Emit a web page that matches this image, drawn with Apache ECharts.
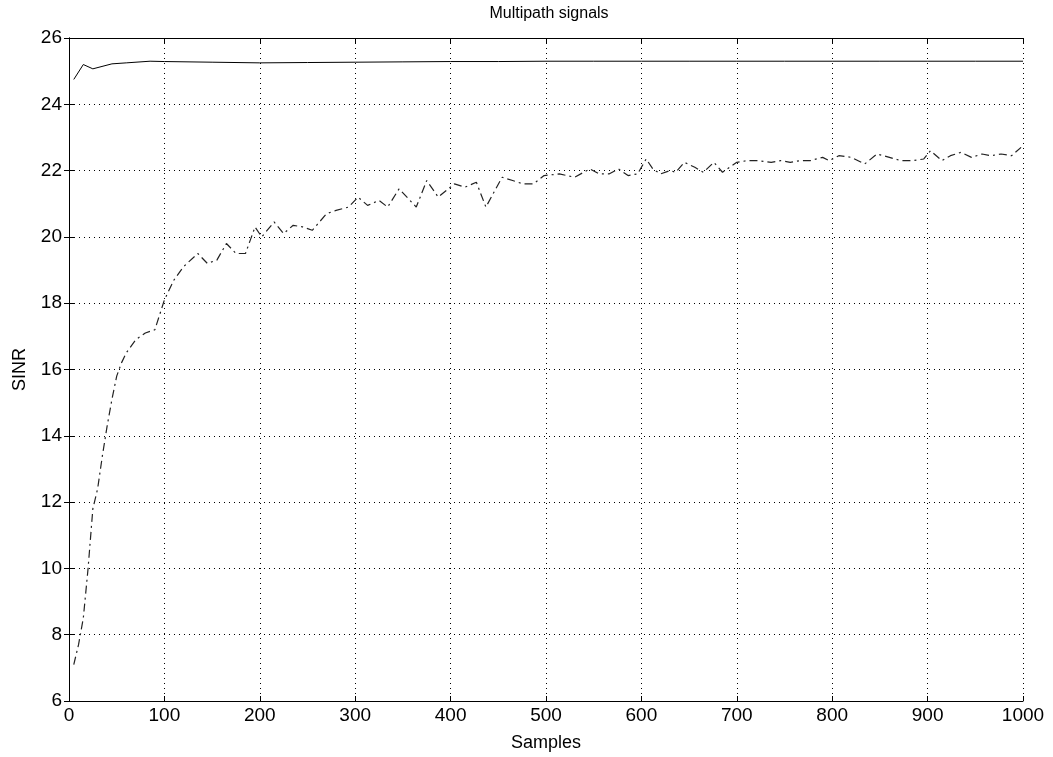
<!DOCTYPE html>
<html>
<head>
<meta charset="utf-8">
<script src="https://cdn.jsdelivr.net/npm/echarts@6/dist/echarts.min.js"></script>
<style>
  html, body { margin: 0; padding: 0; background: #fff; }
  #chart { width: 1053px; height: 757px; }
</style>
</head>
<body>
<div id="chart"></div>
<script>
// solid curve (samples, SINR)
const solidSamples = [5, 15, 25, 45, 60, 85, 100, 150, 200, 250, 300, 350, 400, 450, 500, 550, 600, 650, 700, 750, 800, 850, 900, 950, 1000]
const solidValues = [24.75, 25.2, 25.07, 25.22, 25.25, 25.3, 25.29, 25.27, 25.25, 25.26, 25.27, 25.28, 25.29, 25.29, 25.3, 25.3, 25.3, 25.3, 25.3, 25.3, 25.3, 25.3, 25.3, 25.3, 25.3]

// dash-dot curve (samples, SINR)
const dashSamples = [5, 10, 15, 20, 25, 30, 35, 40, 45, 50, 55, 60, 70, 80, 90, 100, 110, 120, 135, 145,
  155, 165, 175, 185, 195, 202, 215, 225, 235, 245, 255, 270, 280, 293, 303, 313, 325, 334, 346, 364,
  375, 387, 404, 415, 427, 437, 454, 465, 476, 487, 498, 514, 530, 546, 556, 566, 576, 586, 596, 605,
  612, 620, 630, 636, 645, 656, 665, 676, 685, 700, 711, 722, 736, 746, 756, 766, 777, 790, 797, 807,
  820, 834, 847, 860, 872, 884, 896, 903, 915, 924, 935, 946, 957, 966, 977, 988, 998]
const dashValues = [7.1, 7.7, 8.5, 10.0, 11.8, 12.4, 13.4, 14.3, 15.1, 15.8, 16.2, 16.5, 16.9, 17.1, 17.2, 18.1, 18.7, 19.1, 19.5, 19.2,
  19.3, 19.8, 19.5, 19.5, 20.3, 20.0, 20.45, 20.1, 20.35, 20.3, 20.2, 20.7, 20.8, 20.9, 21.2, 20.95, 21.1, 20.9, 21.45, 20.9,
  21.7, 21.2, 21.6, 21.5, 21.65, 20.9, 21.8, 21.7, 21.6, 21.6, 21.85, 21.9, 21.8, 22.05, 21.9, 21.9, 22.05, 21.85, 21.9, 22.35,
  22.05, 21.9, 22.0, 21.95, 22.25, 22.1, 21.95, 22.25, 21.95, 22.25, 22.3, 22.3, 22.25, 22.3, 22.25, 22.3, 22.3, 22.4, 22.3, 22.45,
  22.4, 22.2, 22.5, 22.4, 22.3, 22.3, 22.35, 22.6, 22.3, 22.45, 22.55, 22.4, 22.5, 22.45, 22.5, 22.45, 22.7]

const xTicks = { min: 0, max: 1000, interval: 100 }
const yTicks = { min: 6, max: 26, interval: 2 }

const chart = echarts.init(document.getElementById('chart'))

const font = 'Liberation Sans, Arial, sans-serif'
const boxLine = { show: true, lineStyle: { color: '#000', width: 1 } }
const tickIn = { show: true, inside: true, length: 5, lineStyle: { color: '#000' } }
const dotted = { show: true, lineStyle: { color: '#000', type: [1, 4], width: 1 } }

const option = {
  animation: false,
  backgroundColor: '#fff',
  title: {
    text: 'Multipath signals',
    left: 544,
    top: 1,
    textAlign: 'center',
    textStyle: { fontFamily: font, fontSize: 16, fontWeight: 'normal', color: '#000' }
  },
  grid: { left: 69, right: 30, top: 38, bottom: 54 },
  xAxis: [
    {
      type: 'value',
      min: xTicks.min, max: xTicks.max, interval: xTicks.interval,
      name: 'Samples',
      nameLocation: 'middle',
      nameGap: 33,
      nameTextStyle: { fontFamily: font, fontSize: 18, color: '#000' },
      axisLine: boxLine,
      axisTick: tickIn,
      axisLabel: { fontFamily: font, fontSize: 19, color: '#000', margin: 5, formatter: v => String(v) },
      splitLine: dotted
    },
    {
      type: 'value', position: 'top',
      min: xTicks.min, max: xTicks.max, interval: xTicks.interval,
      axisLine: boxLine, axisTick: tickIn,
      axisLabel: { show: false }, splitLine: { show: false }
    }
  ],
  yAxis: [
    {
      type: 'value',
      min: yTicks.min, max: yTicks.max, interval: yTicks.interval,
      name: 'SINR',
      nameLocation: 'middle',
      nameGap: 40,
      nameRotate: 90,
      nameTextStyle: { fontFamily: font, fontSize: 18, color: '#000' },
      axisLine: boxLine,
      axisTick: tickIn,
      axisLabel: { fontFamily: font, fontSize: 19, color: '#000', margin: 7 },
      splitLine: dotted
    },
    {
      type: 'value', position: 'right',
      min: yTicks.min, max: yTicks.max, interval: yTicks.interval,
      axisLine: boxLine, axisTick: tickIn,
      axisLabel: { show: false }, splitLine: { show: false }
    }
  ],
  series: [
    {
      type: 'line',
      data: solidSamples.map((s, i) => [s, solidValues[i]]),
      showSymbol: false,
      lineStyle: { color: '#000', width: 1 }
    },
    {
      type: 'line',
      data: dashSamples.map((s, i) => [s, dashValues[i]]),
      showSymbol: false,
      lineStyle: { color: '#222', width: 1.2, type: [8, 4, 2, 4] }
    }
  ]
}

chart.setOption(option)
</script>
</body>
</html>
